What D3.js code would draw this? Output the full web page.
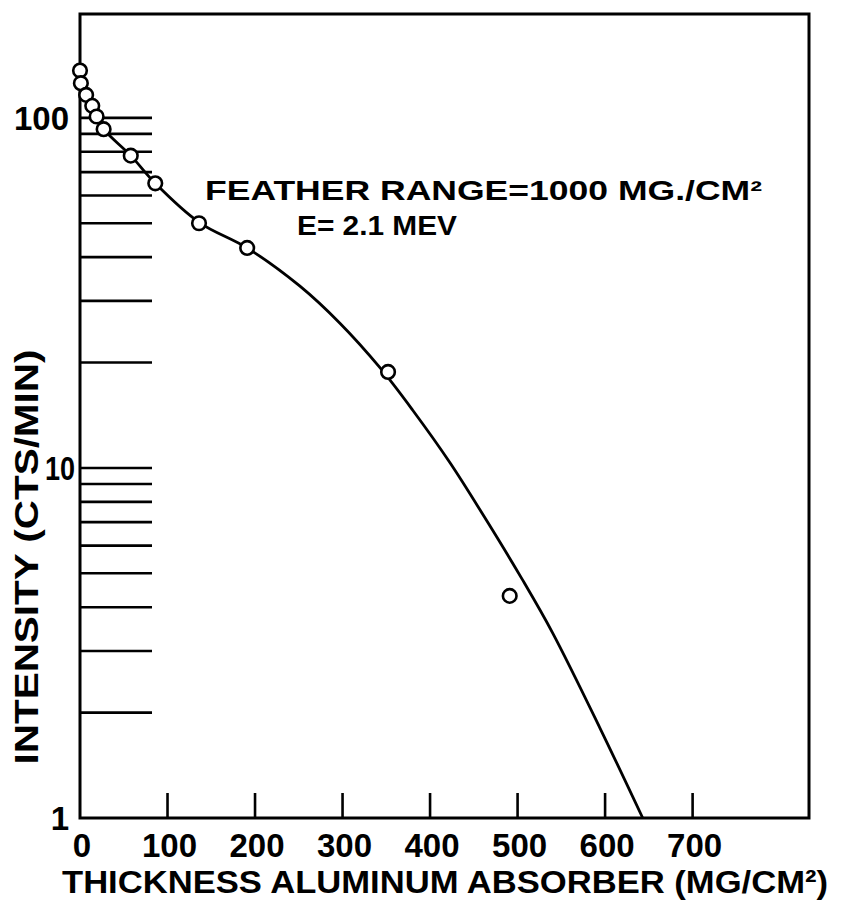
<!DOCTYPE html>
<html><head><meta charset="utf-8">
<script src="https://cdn.jsdelivr.net/npm/d3@7"></script>
<style>
body{margin:0;background:#fff}
text{font-family:"Liberation Sans",Arial,sans-serif;font-weight:bold;fill:#000}
</style>
</head><body>
<svg id="c" width="844" height="903"></svg>
<script>
// measured points (thickness mg/cm2, intensity cts/min)
const pointX = [0, 1, 7, 14, 19, 27, 58, 86, 136, 191, 352, 491];
const pointY = [136.5, 125.6, 116.3, 108.2, 100.9, 92.8, 78, 65, 50, 42.5, 18.8, 4.31];
// hand-drawn fitted curve
const curveX = [0, 1, 7, 14, 19, 27, 58, 86, 136, 191, 251, 297, 343, 380, 423, 465, 505, 540, 594, 643];
const curveY = [136.5, 125.6, 116.3, 108.2, 100.9, 92.8, 78, 65, 50.3, 42.5, 33.1, 25.9, 19.3, 14.64, 10.33, 7.05, 4.82, 3.38, 1.81, 1];
const xTicks = [100, 200, 300, 400, 500, 600, 700];
const xTickLabels = [0, 100, 200, 300, 400, 500, 600, 700];
const yMinorTicks = [2, 3, 4, 5, 6, 7, 8, 9, 10, 20, 30, 40, 50, 60, 70, 80, 90, 100];
const yTickLabels = [1, 10, 100];
const xTitle = "THICKNESS ALUMINUM ABSORBER (MG/CM²)";
const yTitle = "INTENSITY  (CTS/MIN)";
const note1 = "FEATHER RANGE=1000 MG./CM²";
const note2 = "E= 2.1 MEV";

const L = 80, R = 809, T = 14, B = 818;
const svg = d3.select("#c");
const x = d3.scaleLinear().domain([0, 833]).range([L, R]);
const y = d3.scaleLog().domain([1, 198]).range([B, T]);

// frame
svg.append("rect").attr("x", L).attr("y", T).attr("width", R - L).attr("height", B - T)
  .attr("fill", "none").attr("stroke", "#000").attr("stroke-width", 3);

// y ticks (long horizontal lines)
svg.append("g").selectAll("line").data(yMinorTicks).join("line")
  .attr("x1", L).attr("x2", L + 72)
  .attr("y1", d => y(d)).attr("y2", d => y(d))
  .attr("stroke", "#000").attr("stroke-width", 2.6);

// x ticks
svg.append("g").selectAll("line").data(xTicks).join("line")
  .attr("x1", d => x(d)).attr("x2", d => x(d))
  .attr("y1", B).attr("y2", B - 25)
  .attr("stroke", "#000").attr("stroke-width", 2.6);

// x tick labels
svg.append("g").selectAll("text").data(xTickLabels).join("text")
  .attr("x", d => x(d) + 2).attr("y", 857)
  .attr("text-anchor", "middle").attr("font-size", 33)
  .text(d => d);

// y tick labels
svg.append("g").selectAll("text").data(yTickLabels).join("text")
  .attr("x", d => d === 10 ? 75 : 69).attr("y", d => y(d) + 12)
  .attr("text-anchor", "end").attr("font-size", 33)
  .attr("textLength", d => d === 10 ? 30 : null)
  .attr("lengthAdjust", "spacingAndGlyphs")
  .text(d => d);

// curve
const line = d3.line().x((d, i) => x(curveX[i])).y((d, i) => y(curveY[i])).curve(d3.curveCatmullRom.alpha(0.5));
svg.append("path").datum(curveX).attr("d", line)
  .attr("fill", "none").attr("stroke", "#000").attr("stroke-width", 2.8);

// points
svg.append("g").selectAll("circle").data(pointX).join("circle")
  .attr("cx", (d, i) => x(pointX[i])).attr("cy", (d, i) => y(pointY[i]))
  .attr("r", 6.8).attr("fill", "#fff").attr("stroke", "#000").attr("stroke-width", 2.6);

// annotation
svg.append("text").attr("x", 205).attr("y", 200).attr("font-size", 28)
  .attr("textLength", 557).attr("lengthAdjust", "spacingAndGlyphs").text(note1);
svg.append("text").attr("x", 297).attr("y", 235).attr("font-size", 28)
  .attr("textLength", 160).attr("lengthAdjust", "spacingAndGlyphs").text(note2);

// axis titles
svg.append("text").attr("x", 62).attr("y", 893).attr("font-size", 32)
  .attr("textLength", 766).attr("lengthAdjust", "spacingAndGlyphs").text(xTitle);
svg.append("text").attr("transform", "translate(38,557) rotate(-90)")
  .attr("text-anchor", "middle").attr("font-size", 34)
  .attr("textLength", 415).attr("lengthAdjust", "spacingAndGlyphs").text(yTitle);
</script>
</body></html>
